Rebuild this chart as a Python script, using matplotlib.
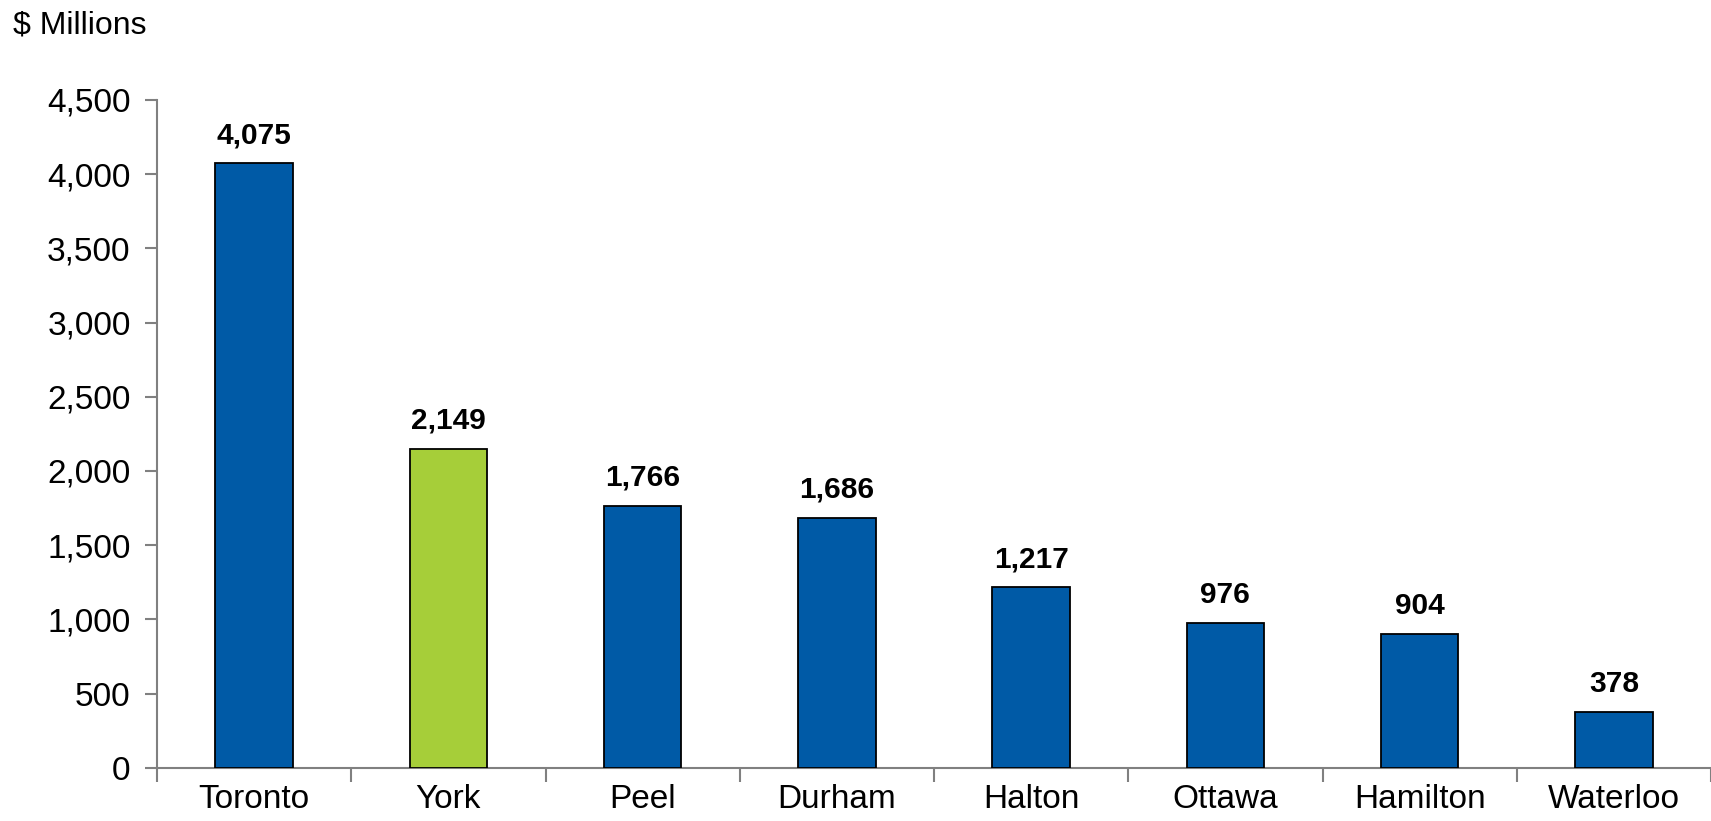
import matplotlib
matplotlib.use("Agg")
import matplotlib.pyplot as plt
from matplotlib.ticker import FuncFormatter, MultipleLocator

categories = ["Toronto", "York", "Peel", "Durham", "Halton", "Ottawa", "Hamilton", "Waterloo"]
values = [4075, 2149, 1766, 1686, 1217, 976, 904, 378]
bar_colors = ["#005AA6", "#A6CE39", "#005AA6", "#005AA6", "#005AA6", "#005AA6", "#005AA6", "#005AA6"]
y_label = "$ Millions"

plt.rcParams['font.family'] = ['Liberation Sans', 'DejaVu Sans']

fig = plt.figure(figsize=(17.11, 8.21), dpi=100)
ax = fig.add_axes([157/1711, 53.3/821, 1 - 157/1711, (767.7-100)/821])

x = list(range(len(categories)))
bars = ax.bar(x, values, width=0.4, color=bar_colors, edgecolor="black", linewidth=1.3, zorder=3)

for xi, v in zip(x, values):
    ax.annotate(f"{v:,}", (xi, v), xytext=(0, 10), textcoords="offset points",
                ha="center", va="bottom", fontsize=21.5, fontweight="bold")

ax.set_xlim(-0.5, len(categories) - 0.5)
ax.set_ylim(0, 4500)
ax.yaxis.set_major_locator(MultipleLocator(500))
ax.yaxis.set_major_formatter(FuncFormatter(lambda v, p: f"{int(v):,}"))

ax.set_xticks(x)
ax.set_xticklabels(categories)
ax.set_xticks([i + 0.5 for i in range(-1, len(categories))], minor=True)
ax.tick_params(axis="x", which="major", length=0, labelsize=24, pad=12)
ax.tick_params(axis="x", which="minor", length=10, width=1.5, color="#808080", direction="out")
ax.tick_params(axis="y", which="major", length=9, width=1.5, color="#808080", labelsize=24, pad=10)

for s in ["top", "right"]:
    ax.spines[s].set_visible(False)
for s in ["left", "bottom"]:
    ax.spines[s].set_color("#808080")
    ax.spines[s].set_linewidth(1.5)

fig.text(13/1711, 1 - 33/821, y_label, fontsize=23, ha="left", va="baseline")

fig.savefig("out.png", dpi=100)
